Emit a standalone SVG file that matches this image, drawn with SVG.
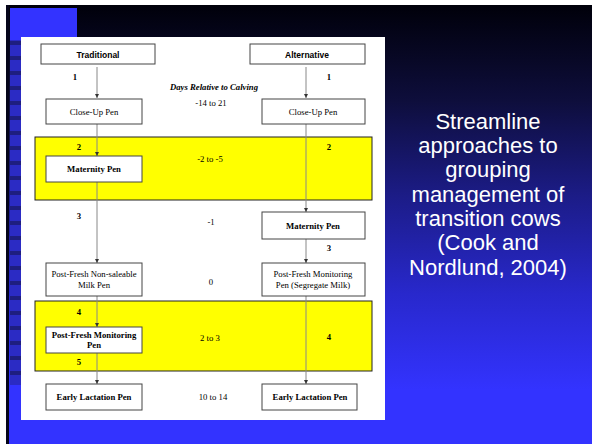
<svg xmlns="http://www.w3.org/2000/svg" width="592" height="444" viewBox="0 0 592 444">
<defs>
<linearGradient id="bg" x1="0" y1="5" x2="0" y2="390" gradientUnits="userSpaceOnUse">
<stop offset="0" stop-color="#00000a"/>
<stop offset="0.25" stop-color="#0e0e3c"/>
<stop offset="0.5" stop-color="#1c1c88"/>
<stop offset="0.75" stop-color="#2828cc"/>
<stop offset="1" stop-color="#3333ff"/>
</linearGradient>
<pattern id="stripes" x="0" y="0" width="12" height="15" patternUnits="userSpaceOnUse">
<rect x="0" y="0" width="12" height="15" fill="#2b2bc4"/>
<rect x="0" y="11" width="12" height="4" fill="#1e1e80"/>
</pattern>
<marker id="ah" viewBox="0 0 6 6" refX="6" refY="3" markerWidth="4" markerHeight="4" orient="auto">
<path d="M0,0 L6,3 L0,6 z" fill="#333"/>
</marker>
</defs>
<style>
.box{fill:#fff;stroke:#444;stroke-width:1}
.band{fill:#ffff00;stroke:#222;stroke-width:1}
.lbl{font-family:"Liberation Serif",serif;font-size:8.7px;fill:#000;text-anchor:middle}
.b{font-weight:bold}
.hdr{font-family:"Liberation Sans",Arial,sans-serif;font-size:8.5px;font-weight:bold;fill:#000;text-anchor:middle}
.ttl{font-family:"Liberation Sans",Arial,sans-serif;font-size:22px;fill:#fff;text-anchor:middle}
.conn line{stroke:#888;stroke-width:1;marker-end:url(#ah)}
</style>

<!-- slide background -->
<rect x="0" y="0" width="592" height="444" fill="#fff"/>
<rect x="6" y="5" width="586" height="439" fill="url(#bg)"/>
<rect x="10" y="8" width="67" height="436" fill="#3333ff"/>
<rect x="10" y="40" width="12" height="345" fill="url(#stripes)"/>
<rect x="6" y="5" width="3" height="439" fill="#05051a"/>

<!-- white panel -->
<rect x="21" y="37" width="364" height="383" fill="#fff"/>

<!-- yellow bands -->
<g id="band1"><rect class="band" x="35" y="137" width="337" height="63"/></g>
<g id="band2"><rect class="band" x="35" y="301" width="337" height="70"/></g>

<!-- connectors -->
<g class="conn" id="connectors">
<line x1="97" y1="67" x2="97" y2="98"/>
<line x1="97" y1="124" x2="97" y2="156"/>
<line x1="97" y1="182" x2="97" y2="263"/>
<line x1="97" y1="296" x2="97" y2="327"/>
<line x1="97" y1="353" x2="97" y2="384"/>
<line x1="306" y1="67" x2="306" y2="98"/>
<line x1="306" y1="124" x2="306" y2="212"/>
<line x1="306" y1="239" x2="306" y2="263"/>
<line x1="306" y1="296" x2="306" y2="384"/>
</g>

<!-- nodes -->
<g id="traditional"><rect class="box" x="41" y="44" width="114" height="20"/><text class="hdr" x="98" y="57.5">Traditional</text></g>
<g id="alternative"><rect class="box" x="250" y="44" width="115" height="20"/><text class="hdr" x="307" y="57.5">Alternative</text></g>

<g id="closeup-l"><rect class="box" x="46" y="99" width="96" height="25"/><text class="lbl" x="94" y="114.5">Close-Up Pen</text></g>
<g id="closeup-r"><rect class="box" x="262" y="99" width="103" height="25"/><text class="lbl" x="313" y="114.5">Close-Up Pen</text></g>

<g id="maternity-l"><rect class="box" x="46" y="156" width="96" height="26"/><text class="lbl b" x="94" y="171.5">Maternity Pen</text></g>
<g id="maternity-r"><rect class="box" x="262" y="212" width="103" height="27"/><text class="lbl b" x="313" y="228.5">Maternity Pen</text></g>

<g id="postfresh-nonsale"><rect class="box" x="46" y="263" width="96" height="33"/><text class="lbl" x="94" y="277">Post-Fresh Non-saleable</text><text class="lbl" x="94" y="288">Milk Pen</text></g>
<g id="postfresh-seg"><rect class="box" x="262" y="263" width="103" height="33"/><text class="lbl" x="313" y="277">Post-Fresh Monitoring</text><text class="lbl" x="313" y="288">Pen (Segregate Milk)</text></g>

<g id="postfresh-mon"><rect class="box" x="46" y="327" width="96" height="26"/><text class="lbl b" x="94" y="338">Post-Fresh Monitoring</text><text class="lbl b" x="94" y="347.5">Pen</text></g>

<g id="early-l"><rect class="box" x="46" y="384" width="96" height="26"/><text class="lbl b" x="94" y="400">Early Lactation Pen</text></g>
<g id="early-r"><rect class="box" x="262" y="384" width="95" height="26"/><text class="lbl b" x="310" y="400">Early Lactation Pen</text></g>

<!-- step numbers -->
<g id="steps">
<text class="lbl b" x="75" y="80">1</text>
<text class="lbl b" x="329" y="80">1</text>
<text class="lbl b" x="79" y="150">2</text>
<text class="lbl b" x="329" y="150">2</text>
<text class="lbl b" x="79" y="219">3</text>
<text class="lbl b" x="329" y="251">3</text>
<text class="lbl b" x="79" y="315">4</text>
<text class="lbl b" x="329" y="340">4</text>
<text class="lbl b" x="79" y="365">5</text>
</g>

<!-- day labels -->
<g id="days">
<text class="lbl b" x="214" y="90" font-style="italic" font-size="9px">Days Relative to Calving</text>
<text class="lbl" x="211" y="106">-14 to 21</text>
<text class="lbl" x="210" y="162">-2 to -5</text>
<text class="lbl" x="211" y="225">-1</text>
<text class="lbl" x="211" y="285">0</text>
<text class="lbl" x="210" y="341">2 to 3</text>
<text class="lbl" x="213" y="400">10 to 14</text>
</g>

<!-- slide title -->
<g id="title">
<text class="ttl" x="488" y="129">Streamline</text>
<text class="ttl" x="488" y="153">approaches to</text>
<text class="ttl" x="488" y="177">grouping</text>
<text class="ttl" x="488" y="202">management of</text>
<text class="ttl" x="488" y="226">transition cows</text>
<text class="ttl" x="488" y="250">(Cook and</text>
<text class="ttl" x="488" y="275">Nordlund, 2004)</text>
</g>
</svg>
